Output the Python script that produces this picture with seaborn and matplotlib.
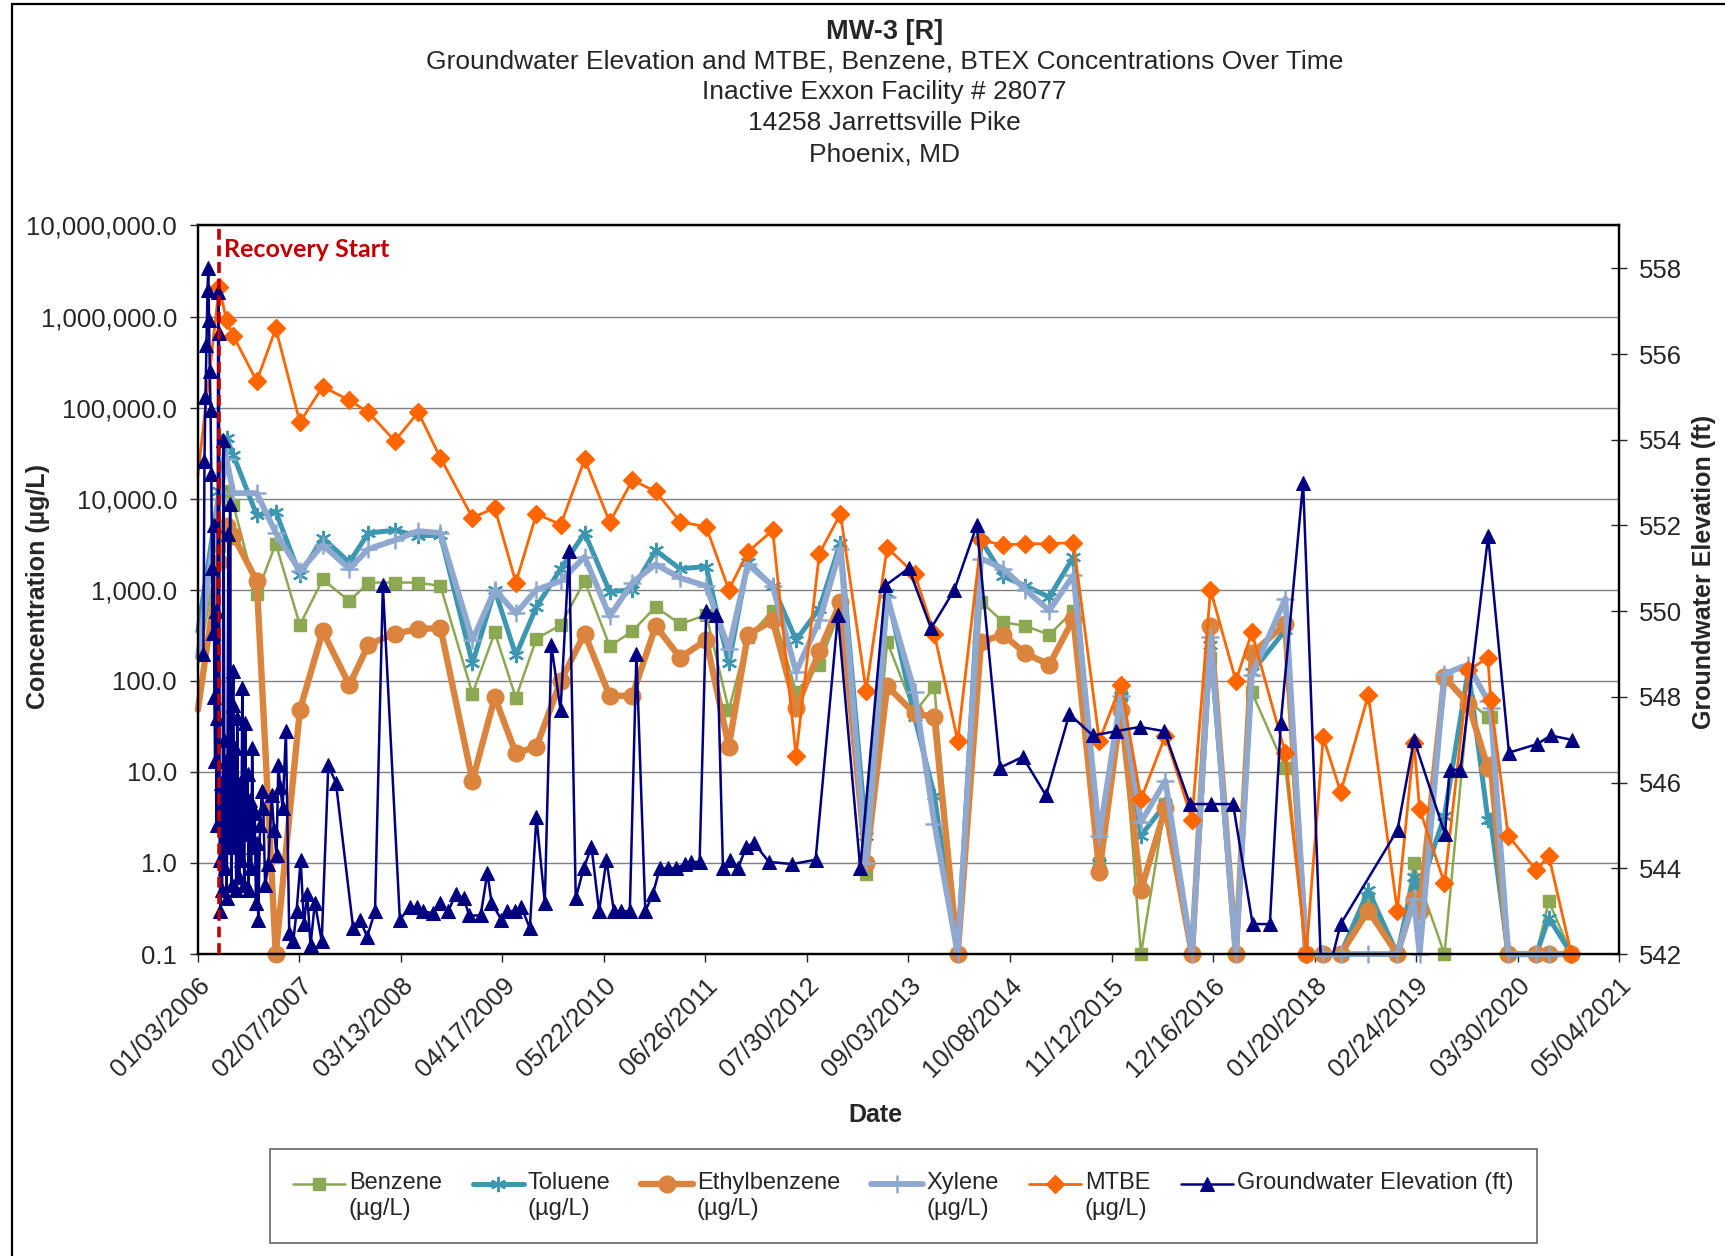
import pandas as pd
import matplotlib
matplotlib.use('Agg')
import matplotlib.pyplot as plt
import matplotlib.ticker as mticker
from matplotlib.patches import Rectangle
from matplotlib.legend_handler import HandlerLine2D
import seaborn as sns

# ---- data ----
start = pd.Timestamp('2006-01-03')
recovery_day = 85

# concentration sampling dates, days after 01/03/2006
conc_days = [0, 84, 113, 140, 232, 307, 402, 492, 597, 672,
             776, 868, 956, 1082, 1170, 1253, 1334, 1430, 1524, 1623,
             1712, 1804, 1900, 2003, 2092, 2167, 2265, 2357, 2449, 2532,
             2633, 2716, 2824, 2902, 2994, 3086, 3174, 3261, 3355, 3450,
             3552, 3637, 3716, 3812, 3917, 3990, 4090, 4153, 4285, 4367,
             4434, 4503, 4612, 4726, 4792, 4814, 4912, 5006, 5083, 5094,
             5163, 5274, 5323, 5412]

benzene = [150, 3000, 12000, 8500, 900, 3200, 410, 1300, 750, 1200,
           1200, 1200, 1100, 72, 340, 65, 290, 410, 1250, 240,
           350, 650, 420, 530, 48, 300, 590, 76, 150, 610,
           0.75, 270, 45, 85, 0.1, 740, 440, 400, 320, 590,
           1.0, 68, 0.1, 4.4, 0.1, 180, 0.1, 75, 11, 0.1,
           0.1, 0.1, 0.4, 0.1, 1.0, 0.6, 0.1, 60, 40, 40,
           0.1, 0.1, 0.38, 0.1]

toluene = [350, 12000, 46000, 30000, 6600, 7200, 1450, 3700, 2000, 4200,
           4500, 3900, 4000, 155, 1000, 190, 650, 1700, 4200, 950,
           1000, 2700, 1700, 1800, 155, 2000, 1100, 280, 620, 3300,
           2.0, 930, 40, 5.5, 0.1, 3500, 1400, 1100, 830, 2300,
           1.0, 68, 2.0, 4.4, 0.1, 250, 0.1, 125, 360, 0.1,
           0.1, 0.1, 0.5, 0.1, 0.7, 0.5, 3.3, 130, 3.0, 3.0,
           0.1, 0.1, 0.25, 0.1]

ethylbenzene = [48, 2000, 5000, 3900, 1250, 0.1, 48, 350, 90, 250,
                330, 370, 380, 8, 66, 16, 19, 100, 330, 68,
                69, 400, 180, 280, 19, 320, 460, 50, 210, 740,
                1.0, 87, 44, 40, 0.1, 270, 320, 200, 150, 480,
                0.8, 48, 0.5, 4.0, 0.1, 400, 0.1, 200, 420, 0.1,
                0.1, 0.1, 0.3, 0.1, 0.4, 0.3, 110, 56, 11, 12,
                0.1, 0.1, 0.1, 0.1]

xylene = [180, 10000, 27000, 11500, 11500, 4200, 1600, 3100, 1700, 2800,
          3500, 4400, 4200, 280, 1000, 550, 1000, 1250, 2300, 510,
          1200, 1900, 1350, 1100, 225, 1900, 1100, 125, 460, 2800,
          1.0, 830, 76, 2.7, 0.1, 2200, 1700, 1000, 590, 1450,
          2.0, 68, 2.8, 8.0, 0.1, 300, 0.1, 115, 800, 0.1,
          0.1, 0.1, 0.1, 0.1, 0.4, 0.1, 120, 150, 60, 50,
          0.1, 0.1, 0.1, 0.1]

mtbe = [18000, 2100000, 910000, 610000, 195000, 740000, 69000, 170000, 120000, 89000,
        43000, 89000, 28000, 6200, 7900, 1200, 6800, 5200, 27000, 5500,
        16000, 12000, 5600, 4900, 1000, 2600, 4500, 15, 2500, 6800,
        78, 2900, 1500, 325, 22, 3500, 3100, 3200, 3200, 3300,
        22, 91, 5.0, 25, 3.0, 1000, 100, 340, 16, 0.1,
        24, 6.0, 70, 0.3, 21, 3.9, 0.6, 130, 180, 62,
        2.0, 0.83, 1.2, 0.1]

# groundwater gauging dates (days after 01/03/2006) and elevations (ft)
gw_days = [22, 26, 30, 34, 38, 41, 44, 47, 50, 53,
           56, 59, 62, 65, 68, 71, 74, 77, 80, 83,
           86, 89, 92, 95, 98, 101, 104, 107, 110, 113,
           116, 120, 124, 127, 130, 133, 137, 140, 143, 147,
           151, 155, 159, 163, 167, 171, 175, 179, 183, 187,
           191, 196, 200, 205, 210, 214, 219, 224, 229, 234,
           238, 245, 252,
           258, 265, 278, 291, 300, 310, 317, 325, 334, 347,
           360, 376, 389, 405, 418, 431, 444, 461, 488, 514,
           544, 612, 639, 667, 698, 729, 796, 835, 862, 888,
           927, 954, 986, 1017, 1048, 1069, 1114, 1141, 1157, 1196,
           1220, 1249, 1275, 1308, 1334, 1367, 1393, 1429, 1463, 1489,
           1520, 1551, 1581, 1610, 1639, 1669, 1702, 1728, 1763, 1793,
           1820, 1852, 1885, 1918, 1944, 1977, 2003, 2043, 2069, 2098,
           2128, 2161, 2190, 2250, 2342, 2434, 2522, 2610, 2709, 2801,
           2889, 2981, 3069, 3161, 3250, 3342, 3434, 3526, 3618, 3712,
           3808, 3909, 3992, 4079, 4156, 4224, 4267, 4355, 4430, 4503,
           4727, 4792, 4914, 4932, 4975, 5084, 5166, 5278, 5330, 5413]

gw_elev = [549.0, 553.5, 555.0, 556.2, 557.5, 558.0, 556.8, 555.6, 554.7, 553.2,
           551.0, 549.5, 552.0, 548.0, 546.5, 550.0, 545.0, 547.5, 557.45, 556.5,
           544.2, 543.0, 546.0, 543.5, 545.5, 554.0, 547.0, 544.0, 546.5, 543.3,
           545.0, 551.8, 544.5, 552.5, 546.0, 543.6, 547.8, 548.6, 544.6, 546.8,
           543.5, 547.5, 545.2, 543.8, 546.0, 544.2, 548.2, 545.0, 543.6, 547.4,
           544.8, 546.2, 543.5, 545.6, 544.0, 546.8, 544.5, 545.3, 543.2, 544.6,
           542.8, 545.0, 545.8,
           545.4, 543.6, 544.1, 545.7, 544.9, 544.3, 546.4, 545.9, 545.4, 547.2,
           542.5, 542.3, 543.0, 544.2, 542.7, 543.4, 542.2, 543.2, 542.3, 546.4,
           546.0, 542.6, 542.8, 542.4, 543.0, 550.6, 542.8, 543.1, 543.1, 543.0,
           542.95, 543.2, 543.0, 543.4, 543.3, 542.9, 542.9, 543.9, 543.2, 542.8,
           543.0, 543.0, 543.1, 542.6, 545.2, 543.2, 549.2, 547.7, 551.4, 543.3,
           544.0, 544.5, 543.0, 544.2, 543.0, 543.0, 543.0, 549.0, 543.0, 543.4,
           544.0, 544.0, 544.0, 544.1, 544.15, 544.15, 550.0, 549.9, 544.0, 544.2,
           544.0, 544.5, 544.6, 544.15, 544.1, 544.2, 549.9, 544.0, 550.6, 551.0,
           549.6, 550.5, 552.0, 546.35, 546.6, 545.7, 547.6, 547.1, 547.2, 547.3,
           547.2, 545.5, 545.5, 545.5, 542.7, 542.7, 547.4, 553.0, 541.0, 542.7,
           544.9, 547.0, 544.8, 546.3, 546.3, 551.75, 546.7, 546.9, 547.1, 547.0]

title_lines = ['Groundwater Elevation and MTBE, Benzene, BTEX Concentrations Over Time',
               'Inactive Exxon Facility # 28077',
               '14258 Jarrettsville Pike',
               'Phoenix, MD']

conc = pd.DataFrame({
    'date': start + pd.to_timedelta(conc_days, unit='D'),
    'Benzene': benzene,
    'Toluene': toluene,
    'Ethylbenzene': ethylbenzene,
    'Xylene': xylene,
    'MTBE': mtbe,
})
gw = pd.DataFrame({'date': start + pd.to_timedelta(gw_days, unit='D'),
                   'elev': gw_elev})


class RaisedLineHandler(HandlerLine2D):
    '''Legend line+marker lifted so it sits beside the first text line.'''
    def __init__(self, lift=0, **kw):
        super().__init__(**kw)
        self.lift = lift

    def create_artists(self, legend, orig_handle, xdescent, ydescent, width, height, fontsize, trans):
        arts = super().create_artists(legend, orig_handle, xdescent, ydescent - 2 * self.lift,
                                      width, height, fontsize, trans)
        for a in arts:
            a.set_markevery([1])
        return arts


# ---- style ----
sns.set_style('white')
plt.rcParams['font.family'] = ['Liberation Sans', 'DejaVu Sans']

fig = plt.figure(figsize=(17.25, 12.56), dpi=100)
ax = fig.add_axes([0.1147, 0.2404, 0.8239, 0.5801])
ax2 = ax.twinx()

series_style = [
    ('Benzene', '#8DA852', 's', 9, 1.8, 1.0),
    ('Toluene', '#3D97B0', (6, 2, 0), 11, 3.6, 1.6),
    ('Ethylbenzene', '#DA843D', 'o', 12, 4.6, 1.0),
    ('Xylene', '#8FA8D0', '+', 13, 4.2, 1.8),
    ('MTBE', '#FF6600', 'D', 9, 2.0, 1.0),
]
# first sample sits on the left axis edge: no marker drawn there
mark_idx = list(range(1, len(conc_days)))
for name, color, marker, ms, lw, mew in series_style:
    sns.lineplot(data=conc, x='date', y=name, ax=ax, color=color,
                 marker=marker, markersize=ms, linewidth=lw,
                 markeredgecolor=color, markeredgewidth=mew, markevery=mark_idx,
                 estimator=None, errorbar=None, sort=False,
                 label=name + '\n(µg/L)', clip_on=False)

sns.lineplot(data=gw, x='date', y='elev', ax=ax2, color='#000080',
             marker='^', markersize=10, linewidth=1.8,
             markeredgecolor='#000080', estimator=None, errorbar=None,
             sort=False, label='Groundwater Elevation (ft)\n')

for a in (ax, ax2):
    if a.get_legend() is not None:
        a.get_legend().remove()

# recovery start marker
rec_date = start + pd.Timedelta(days=recovery_day)
ax2.axvline(rec_date, color='#C00000', lw=2.6, ls=(0, (3, 1.6)), zorder=10)
ax2.annotate('Recovery Start', xy=(rec_date, 1), xycoords=('data', 'axes fraction'),
             xytext=(3, -17.5), textcoords='offset points', ha='left', va='center',
             fontsize=18, fontweight='bold', color='#C00000', family=['Lato', 'DejaVu Sans'])

# left axis (log concentration)
ax.set_yscale('log')
ax.set_ylim(0.1, 1e7)
ax.yaxis.set_major_locator(mticker.LogLocator(base=10, numticks=20))
ax.yaxis.set_minor_locator(mticker.NullLocator())
ax.yaxis.set_major_formatter(mticker.FuncFormatter(lambda v, p: f'{v:,.1f}'))
ax.grid(axis='y', color='#808080', lw=1)
ax.grid(axis='x', visible=False)
ax.set_axisbelow(True)

# x axis (dates every 400 days)
end = start + pd.Timedelta(days=5600)
ax.set_xlim(start, end)
xticks = [start + pd.Timedelta(days=400 * k) for k in range(15)]
ax.set_xticks(xticks)
ax.set_xticklabels([t.strftime('%m/%d/%Y') for t in xticks], rotation=45,
                   ha='right', va='top', rotation_mode='anchor')

# right axis (groundwater elevation)
ax2.set_ylim(542, 559)
ax2.set_yticks(range(542, 559, 2))
ax2.grid(False)

ax.tick_params(axis='y', direction='out', length=6, width=1, labelsize=18.5, pad=9, left=True)
ax.tick_params(axis='x', direction='out', length=6, width=1, labelsize=18.5, pad=8, bottom=True)
ax2.tick_params(axis='y', direction='inout', length=12, width=1, labelsize=18.5, pad=8, right=True)

for a in (ax, ax2):
    for s in a.spines.values():
        s.set_color('black')
        s.set_linewidth(1.6)

ax.set_xlabel('Date', fontsize=18, fontweight='bold')
ax.xaxis.set_label_coords(0.477, -0.205)
ax.set_ylabel('Concentration (µg/L)', fontsize=18, fontweight='bold')
ax.yaxis.set_label_coords(-0.104, 0.504)
ax2.set_ylabel('Groundwater Elevation (ft)', fontsize=18, fontweight='bold')
ax2.yaxis.set_label_coords(1.0515, 0.524)
ax2.set_xlabel('')

# titles
fig.text(0.5128, 0.9745, 'MW-3 [R]', ha='center', va='center', fontsize=19.5, fontweight='bold')
for i, line in enumerate(title_lines):
    fig.text(0.5128, 0.951 - 0.02455 * i, line, ha='center', va='center', fontsize=19)

# legend below the plot
handles = [l for l in ax.get_lines() + ax2.get_lines() if not l.get_label().startswith('_')]
labels = [l.get_label() for l in handles]
leg = fig.legend(handles, labels, loc='center', bbox_to_anchor=(0.5236, 0.0478), ncol=6,
                 fontsize=17, frameon=True, fancybox=False, edgecolor='#404040',
                 handlelength=2.2, handletextpad=0.15, columnspacing=1.3, borderpad=1.0,
                 handler_map={l: RaisedLineHandler(lift=9) for l in handles})
leg.get_frame().set_linewidth(1.2)

# chart border
fig.patches.append(Rectangle((12 / 1725, -0.05), 1.2, 1.05 - 4 / 1256, transform=fig.transFigure,
                             fill=False, edgecolor='black', lw=1.6))

fig.savefig('out.png', dpi=100)
